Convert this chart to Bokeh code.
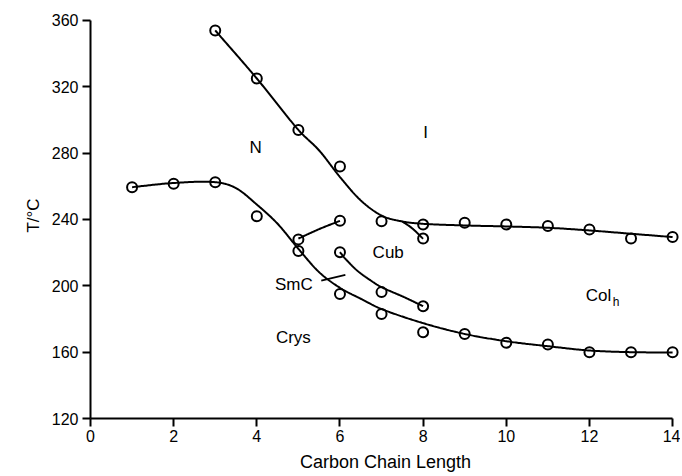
import numpy as np
from bokeh.plotting import figure
from bokeh.models import Label, Range1d, FixedTicker
from bokeh.embed import file_html
from bokeh.resources import INLINE

# ---- measured transition points ----
iso_x = [3, 4, 5, 6, 7, 8, 9, 10, 11, 12, 13, 14]
iso_y = [354, 325, 294, 272, 239, 237, 238, 237, 236, 234, 228.5, 229.5]
cubiso_x = [8]
cubiso_y = [228.5]
melt_x = [1, 2, 3, 4, 5, 6, 7, 8, 9, 10, 11, 12, 13, 14]
melt_y = [259.5, 261.5, 262.5, 242, 221, 195, 183, 172, 171, 165.7, 164.6, 160, 160, 160]
smc_x = [5, 6]
smc_y = [228, 239.2]
cub_x = [6, 7, 8]
cub_y = [220.3, 196.2, 187.7]

# ---- guide-curve knots ----
iso_curve_x = [3, 4, 5, 5.5, 6, 6.5, 7, 7.5, 8, 9, 10, 11, 12, 13, 14]
iso_curve_y = [354, 325, 294, 281.6, 265.6, 251.5, 242.4, 238.8, 237.4, 236.4, 235.8, 235, 233.4, 231.4, 229.4]
melt_curve_x = [1, 2, 3, 3.5, 4, 4.5, 5, 5.5, 6, 6.5, 7, 8, 9, 10, 11, 12, 13, 14]
melt_curve_y = [259.5, 262, 262.5, 258.9, 249, 237.4, 222.3, 208.2, 198.8, 192.2, 186, 177.5, 171, 166.6, 163.6, 161, 160, 159.8]
smc_curve_x = [5, 5.5, 6]
smc_curve_y = [228.5, 234.2, 239.2]
cub_curve_x = [6, 6.13, 6.41, 6.74, 7.0, 7.54, 8.0]
cub_curve_y = [220.3, 216.3, 209.3, 203.2, 199.2, 193.2, 187.7]
branch_curve_x = [7.5, 7.74, 8.0]
branch_curve_y = [238.8, 234.6, 228.4]
pointer_x = [5.55, 6.13]
pointer_y = [203.2, 206.6]

x_ticks = [0, 2, 4, 6, 8, 10, 12, 14]
y_ticks = [120, 160, 200, 240, 280, 320, 360]

FONT = "Liberation Sans"


def smooth(xs, ys, n=30):
    xs = np.asarray(xs, float)
    ys = np.asarray(ys, float)
    m = np.zeros_like(ys)
    m[0] = (ys[1] - ys[0]) / (xs[1] - xs[0])
    m[-1] = (ys[-1] - ys[-2]) / (xs[-1] - xs[-2])
    for i in range(1, len(xs) - 1):
        m[i] = (ys[i + 1] - ys[i - 1]) / (xs[i + 1] - xs[i - 1])
    ox, oy = [], []
    for i in range(len(xs) - 1):
        h = xs[i + 1] - xs[i]
        t = np.linspace(0, 1, n, endpoint=(i == len(xs) - 2))
        h00 = 2 * t**3 - 3 * t**2 + 1
        h10 = t**3 - 2 * t**2 + t
        h01 = -2 * t**3 + 3 * t**2
        h11 = t**3 - t**2
        ox.extend(xs[i] + t * h)
        oy.extend(h00 * ys[i] + h10 * h * m[i] + h01 * ys[i + 1] + h11 * h * m[i + 1])
    return ox, oy


p = figure(width=680, height=474,
           x_range=Range1d(0, 14.19), y_range=Range1d(120, 364.8),
           output_backend="svg", toolbar_location=None,
           min_border_left=90, min_border_right=0,
           min_border_top=12, min_border_bottom=56)
p.grid.visible = False
p.outline_line_color = None
p.background_fill_color = "white"

for cx, cy in [(iso_curve_x, iso_curve_y), (melt_curve_x, melt_curve_y),
               (smc_curve_x, smc_curve_y), (cub_curve_x, cub_curve_y),
               (branch_curve_x, branch_curve_y)]:
    sx, sy = smooth(cx, cy)
    p.line(sx, sy, line_color="black", line_width=2)

p.line(pointer_x, pointer_y, line_color="black", line_width=1.8)

for px, py in [(iso_x, iso_y), (cubiso_x, cubiso_y), (melt_x, melt_y),
               (smc_x, smc_y), (cub_x, cub_y)]:
    p.scatter(px, py, marker="circle", size=10, fill_alpha=0,
              line_color="black", line_width=2)

for ax in (p.xaxis[0], p.yaxis[0]):
    ax.axis_line_width = 2
    ax.major_tick_line_width = 2
    ax.major_tick_out = 8
    ax.major_tick_in = 0
    ax.minor_tick_line_color = None
    ax.major_label_text_font = FONT
    ax.major_label_text_font_size = "16px"
    ax.major_label_text_color = "black"
    ax.axis_line_color = "black"
    ax.major_tick_line_color = "black"
    ax.axis_label_text_font = FONT
    ax.axis_label_text_font_style = "normal"
    ax.axis_label_text_color = "black"

p.xaxis[0].ticker = FixedTicker(ticks=x_ticks)
p.xaxis[0].bounds = (0, 14)
p.xaxis[0].major_label_standoff = 3
p.xaxis[0].axis_label = "Carbon Chain Length"
p.xaxis[0].axis_label_text_font_size = "18px"
p.xaxis[0].axis_label_standoff = 7

p.yaxis[0].ticker = FixedTicker(ticks=y_ticks)
p.yaxis[0].bounds = (120, 360)
p.yaxis[0].major_label_standoff = 4
p.yaxis[0].axis_label = "T/°C"
p.yaxis[0].axis_label_text_font_size = "17px"
p.yaxis[0].axis_label_standoff = 6


def lab(x, y, text, size="17px", align="center", style="normal", baseline="middle"):
    p.add_layout(Label(x=x, y=y, text=text, text_font=FONT, text_font_size=size,
                       text_align=align, text_baseline=baseline, text_font_style=style,
                       text_color="black"))


# phase labels
lab(3.97, 283.4, "N")
lab(8.06, 292.2, "I")
lab(7.16, 220.3, "Cub")
lab(4.89, 201.0, "SmC")
lab(4.88, 168.9, "Crys")
lab(11.91, 194.0, "Col", align="left")
lab(12.56, 190.0, "h", size="12px", align="left")

open("out.html", "w").write(file_html(p, INLINE))
